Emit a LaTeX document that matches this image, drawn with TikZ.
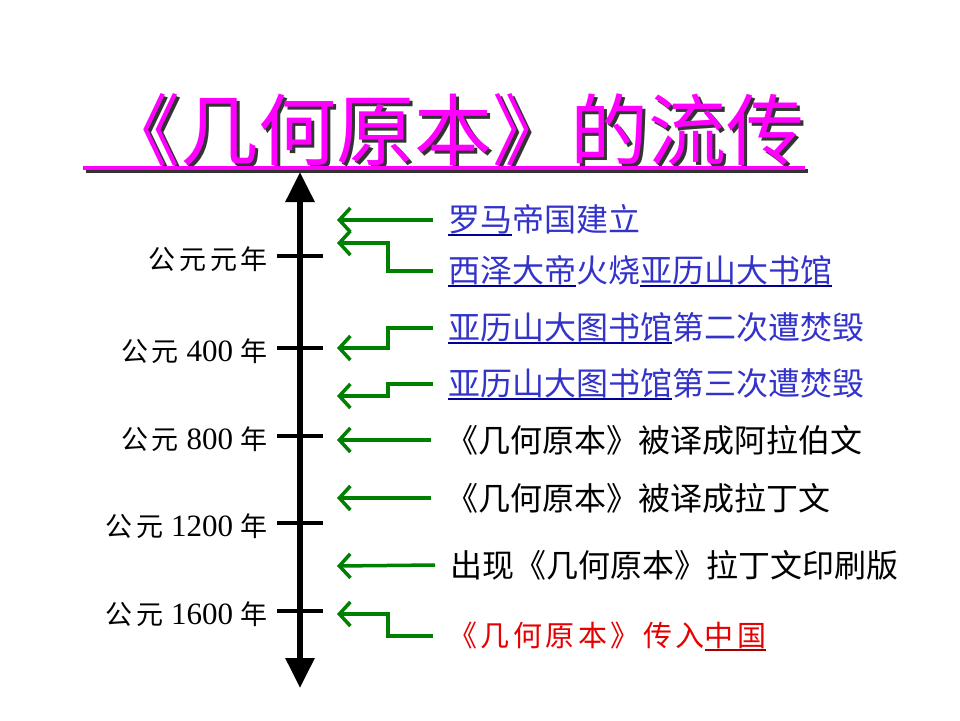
\documentclass[tikz,border=0pt]{standalone}
\usepackage{fontspec}
\setmainfont{Liberation Serif}
\newfontfamily\cjk{Noto Sans CJK SC}
\newfontfamily\cjklab[LetterSpace=14]{Noto Sans CJK SC}
\newfontfamily\cjkred[LetterSpace=12]{Noto Sans CJK SC}
\usetikzlibrary{arrows.meta}
\definecolor{mag}{RGB}{255,0,255}
\definecolor{grn}{RGB}{0,128,0}
\definecolor{txtblue}{RGB}{51,51,204}
\definecolor{ulblue}{RGB}{0,0,153}
\definecolor{txtred}{RGB}{230,0,0}
\definecolor{ulred}{RGB}{160,0,0}
\newcommand\ulx[2]{\setbox0\hbox{#2}\rlap{\color{#1}\rule[-4.5pt]{\wd0}{1.8pt}}\box0}
\newcommand\yc[1]{{\fontsize{27}{27}\selectfont\cjklab #1}}
\begin{document}
\begin{tikzpicture}[x=1pt,y=-1pt,
  evt/.style={anchor=west, inner sep=0pt, font=\fontsize{32}{32}\selectfont\cjk},
  yr/.style={anchor=east, inner sep=0pt, font=\fontsize{31}{31}\selectfont},
  conn/.style={grn, line width=3.5pt, -{Straight Barb[length=11pt,width=24pt]}},
  tickmark/.style={line width=4pt},
  titletext/.style={inner sep=0pt, font=\fontsize{78}{78}\selectfont\cjk},
]
\useasboundingbox[fill=white] (0,0) rectangle (960,720);
% title
\node[titletext, text=black!80] (titleS) at (456,133) {《几何原本》的流传};
\node[titletext, text=mag] (title) at (453,130) {《几何原本》的流传};
\draw[black!80, line width=4pt] (86,171) -- (808,171);
\draw[mag, line width=4pt] (83,168) -- (805,168);
% axis
\coordinate (top) at (300,172);
\coordinate (bot) at (300,688);
\draw[line width=6pt, {Triangle[length=30pt,width=28pt]}-{Triangle[length=30pt,width=28pt]}] (top) -- (bot);
% ticks
\foreach \n/\y in {1/256,2/348,3/436,4/523,5/611}{
  \coordinate (tl\n) at (277,\y);
  \coordinate (tr\n) at (323,\y);
  \draw[tickmark] (tl\n) -- (tr\n);
}
% year labels
\node[yr] (y1) at (268,259) {\yc{公元元年}};
\node[yr] (y2) at (268,351) {\yc{公元} 400 \yc{年}};
\node[yr] (y3) at (268,439) {\yc{公元} 800 \yc{年}};
\node[yr] (y4) at (268,526) {\yc{公元} 1200 \yc{年}};
\node[yr] (y5) at (268,614) {\yc{公元} 1600 \yc{年}};
% events
\node[evt, text=txtblue] (e1) at (448,220) {\ulx{ulblue}{罗马}帝国建立};
\node[evt, text=txtblue] (e2) at (448,271) {\ulx{ulblue}{西泽大帝}火烧\ulx{ulblue}{亚历山大书馆}};
\node[evt, text=txtblue] (e3) at (448,328) {\ulx{ulblue}{亚历山大图书馆}第二次遭焚毁};
\node[evt, text=txtblue] (e4) at (448,384) {\ulx{ulblue}{亚历山大图书馆}第三次遭焚毁};
\node[evt, text=black] (e5) at (446,440) {《几何原本》被译成阿拉伯文};
\node[evt, text=black] (e6) at (446,498) {《几何原本》被译成拉丁文};
\node[evt, text=black] (e7) at (450,565) {出现《几何原本》拉丁文印刷版};
\node[evt, text=txtred, font=\fontsize{29}{29}\selectfont\cjkred] (e8) at (448,636) {《几何原本》传入\ulx{ulred}{中国}};
% arrow ends
\coordinate (a1) at (337,220);
\coordinate (a2) at (337,243);
\coordinate (a3) at (337,348);
\coordinate (a4) at (337,396);
\coordinate (a5) at (337,440);
\coordinate (a6) at (337,498);
\coordinate (a7) at (337,566);
\coordinate (a8) at (337,614);
% connectors
\draw[conn] ([xshift=-15pt]e1.west) -- (a1);
\draw[conn] ([xshift=-15pt]e2.west) -- ++(-45,0) |- (a2);
\draw[conn] ([xshift=-15pt]e3.west) -- ++(-45,0) |- (a3);
\draw[conn] ([xshift=-15pt]e4.west) -- ++(-45,0) |- (a4);
\draw[conn] ([xshift=-15pt]e5.west) -- (a5);
\draw[conn] ([xshift=-15pt]e6.west) -- (a6);
\draw[conn] ([xshift=-15pt]e7.west) -- (a7);
\draw[conn] ([xshift=-15pt]e8.west) -- ++(-45,0) |- (a8);
\end{tikzpicture}
\end{document}
